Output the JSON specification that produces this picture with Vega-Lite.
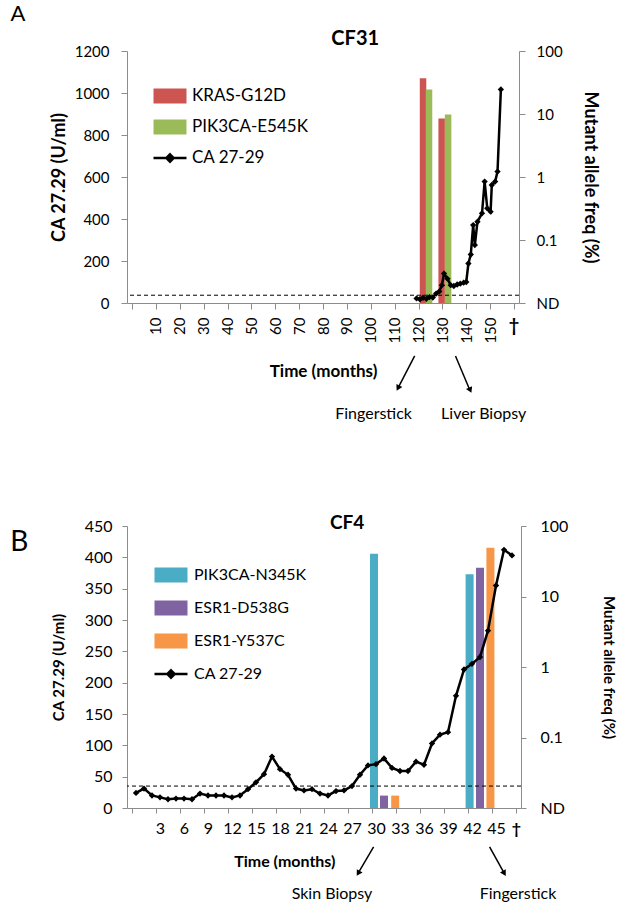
{
  "$schema": "https://vega.github.io/schema/vega-lite/v6.json",
  "background": "white",
  "padding": {"left": 10, "top": 3, "right": 10, "bottom": 0},
  "spacing": 223,
  "bounds": "flush",
  "resolve": {"scale": {"color": "independent"}, "legend": {"color": "independent"}},
  "config": {
    "view": {"stroke": null},
    "font": "Lato",
    "axis": {"grid": false, "domainColor": "#8c8c8c", "tickColor": "#8c8c8c", "labelColor": "black", "titleColor": "black", "labelFont": "Lato", "titleFont": "Lato", "labelOverlap": false, "labelSeparation": -40},
    "legend": {"labelFont": "Lato", "labelColor": "black"}
  },
  "vconcat": [
    {
      "width": 392,
      "height": 252,
      "resolve": {"scale": {"y": "independent"}},
      "layer": [
        {
          "data": {"values": [
            {"month": 121.9, "freq": 37, "series": "KRAS-G12D"},
            {"month": 124.4, "freq": 24.5, "series": "PIK3CA-E545K"},
            {"month": 129.7, "freq": 8.5, "series": "KRAS-G12D"},
            {"month": 132.4, "freq": 9.8, "series": "PIK3CA-E545K"}
          ]},
          "mark": {"type": "bar", "size": 6.5},
          "encoding": {
            "x": {"field": "month", "type": "quantitative", "scale": {"domain": [0, 160], "nice": false, "zero": false},
              "axis": {"values": [0, 10, 20, 30, 40, 50, 60, 70, 80, 90, 100, 110, 120, 130, 140, 150, 160], "labelExpr": "datum.value == 0 || datum.value == 160 ? '' : datum.label", "labelOverlap": false, "labelSeparation": -40, "labelAngle": -90, "labelFontSize": 15, "labelPadding": 8, "tickSize": 6, "title": "Time (months)", "titleFontSize": 17, "titleFontWeight": "bold", "titlePadding": 20}},
            "y": {"field": "freq", "type": "quantitative", "scale": {"type": "log", "domain": [0.01, 100], "nice": false},
              "axis": {"orient": "right", "values": [0.01, 0.1, 1, 10, 100], "labelExpr": "datum.value < 0.05 ? 'ND' : datum.value < 0.5 ? '0.1' : format(datum.value, 'd')", "labelOverlap": false, "labelFontSize": 15, "tickSize": 6, "labelPadding": 11, "title": "Mutant allele freq (%)", "titleFontSize": 18, "titleFontWeight": "bold", "titlePadding": 18}},
            "y2": {"datum": 0.01},
            "color": {"field": "series", "type": "nominal",
              "scale": {"domain": ["KRAS-G12D", "PIK3CA-E545K", "CA 27-29"], "range": ["#CD5551", "#9BBB59", "black"]},
              "legend": {"title": null, "orient": "none", "legendX": 25, "legendY": 27, "symbolSize": 1089, "labelFontSize": 17, "rowPadding": -1, "labelOffset": 4,
                "encode": {"symbols": {"update": {
                  "shape": {"signal": "datum.value === 'CA 27-29' ? 'M-1,0L1,0M0,-0.22L0.22,0L0,0.22L-0.22,0Z' : 'M-1,-0.45L1,-0.45L1,0.45L-1,0.45Z'"},
                  "fill": {"signal": "datum.value === 'CA 27-29' ? 'black' : scale('color', datum.value)"},
                  "stroke": {"signal": "datum.value === 'CA 27-29' ? 'black' : 'transparent'"},
                  "strokeWidth": {"value": 2.5},
                  "opacity": {"value": 1}
                }}}}
            }
          }
        },
        {
          "data": {"values": [{"cutoff": 37}]},
          "mark": {"type": "rule", "color": "black", "strokeWidth": 1, "strokeDash": [4, 3]},
          "encoding": {"y": {"field": "cutoff", "type": "quantitative", "scale": {"domain": [0, 1200], "nice": false}, "axis": null}}
        },
        {
          "data": {"values": [
            {"month": 119.2, "ca": 22}, {"month": 120.6, "ca": 18}, {"month": 121.9, "ca": 25}, {"month": 123.3, "ca": 20},
            {"month": 124.6, "ca": 28}, {"month": 126.0, "ca": 26}, {"month": 127.4, "ca": 45}, {"month": 128.7, "ca": 55},
            {"month": 129.8, "ca": 85}, {"month": 130.7, "ca": 140}, {"month": 132.1, "ca": 116}, {"month": 133.5, "ca": 85},
            {"month": 134.8, "ca": 81}, {"month": 136.2, "ca": 88}, {"month": 137.5, "ca": 92}, {"month": 138.9, "ca": 97},
            {"month": 140.0, "ca": 100}, {"month": 140.9, "ca": 188}, {"month": 141.9, "ca": 231}, {"month": 142.9, "ca": 371},
            {"month": 143.6, "ca": 276}, {"month": 144.7, "ca": 387}, {"month": 146.6, "ca": 427}, {"month": 147.7, "ca": 578},
            {"month": 148.8, "ca": 451}, {"month": 150.2, "ca": 435}, {"month": 150.7, "ca": 562}, {"month": 152.1, "ca": 578},
            {"month": 153.1, "ca": 626}, {"month": 154.5, "ca": 1017}
          ]},
          "mark": {"type": "line", "color": "black", "strokeWidth": 2.5, "point": {"shape": "diamond", "size": 40, "filled": true, "color": "black"}},
          "encoding": {
            "x": {"field": "month", "type": "quantitative", "scale": {"domain": [0, 160], "nice": false, "zero": false},
              "axis": {"values": [0, 10, 20, 30, 40, 50, 60, 70, 80, 90, 100, 110, 120, 130, 140, 150, 160], "labelExpr": "datum.value == 0 || datum.value == 160 ? '' : datum.label", "labelOverlap": false, "labelSeparation": -40, "labelAngle": -90, "labelFontSize": 15, "labelPadding": 8, "tickSize": 6, "title": "Time (months)", "titleFontSize": 17, "titleFontWeight": "bold", "titlePadding": 20}},
            "y": {"field": "ca", "type": "quantitative", "scale": {"domain": [0, 1200], "nice": false},
              "axis": {"orient": "left", "values": [0, 200, 400, 600, 800, 1000, 1200], "format": "d", "labelOverlap": false, "labelFontSize": 15, "tickSize": 6, "labelPadding": 12, "title": "CA 27.29 (U/ml)", "titleFontSize": 18, "titleFontWeight": "bold", "titlePadding": 6}}
          }
        },
        {
          "data": {"values": [
            {"note": "A", "size": "big"}
          ]},
          "mark": {"type": "text", "fontSize": 22, "align": "center", "baseline": "middle", "color": "black"},
          "encoding": {"x": {"datum": -47.8, "type": "quantitative", "axis": {"values": [0, 10, 20, 30, 40, 50, 60, 70, 80, 90, 100, 110, 120, 130, 140, 150, 160], "labelExpr": "datum.value == 0 || datum.value == 160 ? '' : datum.label", "labelOverlap": false, "labelSeparation": -40, "labelAngle": -90, "labelFontSize": 15, "labelPadding": 8, "tickSize": 6, "title": "Time (months)", "titleFontSize": 17, "titleFontWeight": "bold", "titlePadding": 20}}, "y": {"datum": 1376, "type": "quantitative", "scale": {"domain": [0, 1200], "nice": false}, "axis": null}, "text": {"field": "note", "type": "nominal"}}
        },
        {
          "data": {"values": [{"note": "CF31"}]},
          "mark": {"type": "text", "fontSize": 20, "fontWeight": "bold", "align": "center", "baseline": "middle", "color": "black"},
          "encoding": {"x": {"datum": 93.5, "type": "quantitative", "axis": {"values": [0, 10, 20, 30, 40, 50, 60, 70, 80, 90, 100, 110, 120, 130, 140, 150, 160], "labelExpr": "datum.value == 0 || datum.value == 160 ? '' : datum.label", "labelOverlap": false, "labelSeparation": -40, "labelAngle": -90, "labelFontSize": 15, "labelPadding": 8, "tickSize": 6, "title": "Time (months)", "titleFontSize": 17, "titleFontWeight": "bold", "titlePadding": 20}}, "y": {"datum": 1257, "type": "quantitative", "scale": {"domain": [0, 1200], "nice": false}, "axis": null}, "text": {"field": "note", "type": "nominal"}}
        },
        {
          "data": {"values": [{"note": "†"}]},
          "mark": {"type": "text", "fontSize": 18, "fontWeight": "bold", "align": "center", "baseline": "middle", "color": "black"},
          "encoding": {"x": {"datum": 160, "type": "quantitative", "axis": {"values": [0, 10, 20, 30, 40, 50, 60, 70, 80, 90, 100, 110, 120, 130, 140, 150, 160], "labelExpr": "datum.value == 0 || datum.value == 160 ? '' : datum.label", "labelOverlap": false, "labelSeparation": -40, "labelAngle": -90, "labelFontSize": 15, "labelPadding": 8, "tickSize": 6, "title": "Time (months)", "titleFontSize": 17, "titleFontWeight": "bold", "titlePadding": 20}}, "y": {"datum": -114, "type": "quantitative", "scale": {"domain": [0, 1200], "nice": false}, "axis": null}, "text": {"field": "note", "type": "nominal"}}
        },
        {
          "data": {"values": [{"note": "Fingerstick"}]},
          "mark": {"type": "text", "fontSize": 16, "align": "center", "baseline": "middle", "color": "black"},
          "encoding": {"x": {"datum": 101.2, "type": "quantitative", "axis": {"values": [0, 10, 20, 30, 40, 50, 60, 70, 80, 90, 100, 110, 120, 130, 140, 150, 160], "labelExpr": "datum.value == 0 || datum.value == 160 ? '' : datum.label", "labelOverlap": false, "labelSeparation": -40, "labelAngle": -90, "labelFontSize": 15, "labelPadding": 8, "tickSize": 6, "title": "Time (months)", "titleFontSize": 17, "titleFontWeight": "bold", "titlePadding": 20}}, "y": {"datum": -529, "type": "quantitative", "scale": {"domain": [0, 1200], "nice": false}, "axis": null}, "text": {"field": "note", "type": "nominal"}}
        },
        {
          "data": {"values": [{"note": "Liver Biopsy"}]},
          "mark": {"type": "text", "fontSize": 16, "align": "center", "baseline": "middle", "color": "black"},
          "encoding": {"x": {"datum": 147.3, "type": "quantitative", "axis": {"values": [0, 10, 20, 30, 40, 50, 60, 70, 80, 90, 100, 110, 120, 130, 140, 150, 160], "labelExpr": "datum.value == 0 || datum.value == 160 ? '' : datum.label", "labelOverlap": false, "labelSeparation": -40, "labelAngle": -90, "labelFontSize": 15, "labelPadding": 8, "tickSize": 6, "title": "Time (months)", "titleFontSize": 17, "titleFontWeight": "bold", "titlePadding": 20}}, "y": {"datum": -529, "type": "quantitative", "scale": {"domain": [0, 1200], "nice": false}, "axis": null}, "text": {"field": "note", "type": "nominal"}}
        },
        {
          "data": {"values": [{"event": "Fingerstick"}]},
          "mark": {"type": "rule", "color": "black", "strokeWidth": 1.5},
          "encoding": {"x": {"datum": 118.4, "type": "quantitative", "axis": {"values": [0, 10, 20, 30, 40, 50, 60, 70, 80, 90, 100, 110, 120, 130, 140, 150, 160], "labelExpr": "datum.value == 0 || datum.value == 160 ? '' : datum.label", "labelOverlap": false, "labelSeparation": -40, "labelAngle": -90, "labelFontSize": 15, "labelPadding": 8, "tickSize": 6, "title": "Time (months)", "titleFontSize": 17, "titleFontWeight": "bold", "titlePadding": 20}}, "x2": {"datum": 111.4}, "y": {"datum": -252, "type": "quantitative", "scale": {"domain": [0, 1200], "nice": false}, "axis": null}, "y2": {"datum": -405}}
        },
        {
          "data": {"values": [{"event": "Fingerstick"}]},
          "mark": {"type": "point", "shape": "triangle", "filled": true, "size": 45, "angle": 208, "color": "black", "opacity": 1},
          "encoding": {"x": {"datum": 111.6, "type": "quantitative", "axis": {"values": [0, 10, 20, 30, 40, 50, 60, 70, 80, 90, 100, 110, 120, 130, 140, 150, 160], "labelExpr": "datum.value == 0 || datum.value == 160 ? '' : datum.label", "labelOverlap": false, "labelSeparation": -40, "labelAngle": -90, "labelFontSize": 15, "labelPadding": 8, "tickSize": 6, "title": "Time (months)", "titleFontSize": 17, "titleFontWeight": "bold", "titlePadding": 20}}, "y": {"datum": -401, "type": "quantitative", "scale": {"domain": [0, 1200], "nice": false}, "axis": null}}
        },
        {
          "data": {"values": [{"event": "Liver Biopsy"}]},
          "mark": {"type": "rule", "color": "black", "strokeWidth": 1.5},
          "encoding": {"x": {"datum": 135.5, "type": "quantitative", "axis": {"values": [0, 10, 20, 30, 40, 50, 60, 70, 80, 90, 100, 110, 120, 130, 140, 150, 160], "labelExpr": "datum.value == 0 || datum.value == 160 ? '' : datum.label", "labelOverlap": false, "labelSeparation": -40, "labelAngle": -90, "labelFontSize": 15, "labelPadding": 8, "tickSize": 6, "title": "Time (months)", "titleFontSize": 17, "titleFontWeight": "bold", "titlePadding": 20}}, "x2": {"datum": 141.4}, "y": {"datum": -252, "type": "quantitative", "scale": {"domain": [0, 1200], "nice": false}, "axis": null}, "y2": {"datum": -412}}
        },
        {
          "data": {"values": [{"event": "Liver Biopsy"}]},
          "mark": {"type": "point", "shape": "triangle", "filled": true, "size": 45, "angle": 156, "color": "black", "opacity": 1},
          "encoding": {"x": {"datum": 141.5, "type": "quantitative", "axis": {"values": [0, 10, 20, 30, 40, 50, 60, 70, 80, 90, 100, 110, 120, 130, 140, 150, 160], "labelExpr": "datum.value == 0 || datum.value == 160 ? '' : datum.label", "labelOverlap": false, "labelSeparation": -40, "labelAngle": -90, "labelFontSize": 15, "labelPadding": 8, "tickSize": 6, "title": "Time (months)", "titleFontSize": 17, "titleFontWeight": "bold", "titlePadding": 20}}, "y": {"datum": -411, "type": "quantitative", "scale": {"domain": [0, 1200], "nice": false}, "axis": null}}
        }
      ]
    },
    {
      "width": 394,
      "height": 282,
      "resolve": {"scale": {"y": "independent"}},
      "layer": [
        {
          "data": {"values": [
            {"month": 30.25, "freq": 40.5, "series": "PIK3CA-N345K"},
            {"month": 31.5, "freq": 0.015, "series": "ESR1-D538G"},
            {"month": 32.9, "freq": 0.015, "series": "ESR1-Y537C"},
            {"month": 42.2, "freq": 20.6, "series": "PIK3CA-N345K"},
            {"month": 43.5, "freq": 25.6, "series": "ESR1-D538G"},
            {"month": 44.8, "freq": 49.2, "series": "ESR1-Y537C"}
          ]},
          "mark": {"type": "bar", "size": 8},
          "encoding": {
            "x": {"field": "month", "type": "quantitative", "scale": {"domain": [0, 48], "nice": false, "zero": false},
              "axis": {"values": [0, 3, 6, 9, 12, 15, 18, 21, 24, 27, 30, 33, 36, 39, 42, 45, 48], "labelExpr": "datum.value == 0 ? '' : datum.value == 48 ? '†' : datum.label", "labelOverlap": false, "labelSeparation": -40, "labelAngle": 0, "labelFontSize": 16, "labelPadding": 7, "tickSize": 5, "labelOffset": {"condition": {"test": "datum.value == 48", "value": 0}, "value": 4}, "labelFontWeight": {"condition": {"test": "datum.value == 48", "value": "bold"}, "value": "normal"}, "title": null}},
            "y": {"field": "freq", "type": "quantitative", "scale": {"type": "log", "domain": [0.01, 100], "nice": false},
              "axis": {"orient": "right", "values": [0.01, 0.1, 1, 10, 100], "labelExpr": "datum.value < 0.05 ? 'ND' : datum.value < 0.5 ? '0.1' : format(datum.value, 'd')", "labelOverlap": false, "labelFontSize": 16, "tickSize": 5, "labelPadding": 14, "title": "Mutant allele freq (%)", "titleFontSize": 15, "titleFontWeight": "bold", "titlePadding": 33}},
            "y2": {"datum": 0.01},
            "color": {"field": "series", "type": "nominal",
              "scale": {"domain": ["PIK3CA-N345K", "ESR1-D538G", "ESR1-Y537C", "CA 27-29"], "range": ["#4BACC6", "#8064A2", "#F79646", "black"]},
              "legend": {"title": null, "orient": "none", "legendX": 26, "legendY": 31, "symbolSize": 1089, "labelFontSize": 16, "rowPadding": 2, "labelOffset": 5,
                "encode": {"symbols": {"update": {
                  "shape": {"signal": "datum.value === 'CA 27-29' ? 'M-1,0L1,0M0,-0.22L0.22,0L0,0.22L-0.22,0Z' : 'M-1,-0.45L1,-0.45L1,0.45L-1,0.45Z'"},
                  "fill": {"signal": "datum.value === 'CA 27-29' ? 'black' : scale('color', datum.value)"},
                  "stroke": {"signal": "datum.value === 'CA 27-29' ? 'black' : 'transparent'"},
                  "strokeWidth": {"value": 2.5},
                  "opacity": {"value": 1}
                }}}}
            }
          }
        },
        {
          "data": {"values": [{"cutoff": 35}]},
          "mark": {"type": "rule", "color": "black", "strokeWidth": 1, "strokeDash": [4, 3]},
          "encoding": {"y": {"field": "cutoff", "type": "quantitative", "scale": {"domain": [0, 450], "nice": false}, "axis": null}}
        },
        {
          "data": {"values": [
            {"month": 0.5, "ca": 24}, {"month": 1.5, "ca": 31}, {"month": 2.5, "ca": 20}, {"month": 3.5, "ca": 17},
            {"month": 4.5, "ca": 14}, {"month": 5.5, "ca": 15}, {"month": 6.5, "ca": 15}, {"month": 7.5, "ca": 14},
            {"month": 8.5, "ca": 23}, {"month": 9.5, "ca": 20}, {"month": 10.5, "ca": 20}, {"month": 11.5, "ca": 20},
            {"month": 12.5, "ca": 17}, {"month": 13.5, "ca": 20}, {"month": 14.5, "ca": 30}, {"month": 15.5, "ca": 41},
            {"month": 16.5, "ca": 54}, {"month": 17.5, "ca": 82}, {"month": 18.5, "ca": 62}, {"month": 19.5, "ca": 53},
            {"month": 20.5, "ca": 31}, {"month": 21.5, "ca": 28}, {"month": 22.5, "ca": 30}, {"month": 23.5, "ca": 23},
            {"month": 24.5, "ca": 20}, {"month": 25.5, "ca": 27}, {"month": 26.5, "ca": 28}, {"month": 27.5, "ca": 35},
            {"month": 28.5, "ca": 53}, {"month": 29.5, "ca": 68}, {"month": 30.5, "ca": 70}, {"month": 31.5, "ca": 79},
            {"month": 32.5, "ca": 64}, {"month": 33.5, "ca": 59}, {"month": 34.5, "ca": 59}, {"month": 35.5, "ca": 74},
            {"month": 36.5, "ca": 69}, {"month": 37.5, "ca": 103}, {"month": 38.5, "ca": 117}, {"month": 39.5, "ca": 121},
            {"month": 40.5, "ca": 179}, {"month": 41.5, "ca": 221}, {"month": 42.5, "ca": 230}, {"month": 43.5, "ca": 241},
            {"month": 44.5, "ca": 283}, {"month": 45.5, "ca": 355}, {"month": 46.5, "ca": 412}, {"month": 47.5, "ca": 403}
          ]},
          "mark": {"type": "line", "color": "black", "strokeWidth": 2.5, "point": {"shape": "diamond", "size": 40, "filled": true, "color": "black"}},
          "encoding": {
            "x": {"field": "month", "type": "quantitative", "scale": {"domain": [0, 48], "nice": false, "zero": false},
              "axis": {"values": [0, 3, 6, 9, 12, 15, 18, 21, 24, 27, 30, 33, 36, 39, 42, 45, 48], "labelExpr": "datum.value == 0 ? '' : datum.value == 48 ? '†' : datum.label", "labelOverlap": false, "labelSeparation": -40, "labelAngle": 0, "labelFontSize": 16, "labelPadding": 7, "tickSize": 5, "labelOffset": {"condition": {"test": "datum.value == 48", "value": 0}, "value": 4}, "labelFontWeight": {"condition": {"test": "datum.value == 48", "value": "bold"}, "value": "normal"}, "title": null}},
            "y": {"field": "ca", "type": "quantitative", "scale": {"domain": [0, 450], "nice": false},
              "axis": {"orient": "left", "values": [0, 50, 100, 150, 200, 250, 300, 350, 400, 450], "format": "d", "labelOverlap": false, "labelFontSize": 16, "tickSize": 5, "labelPadding": 10, "title": "CA 27.29 (U/ml)", "titleFontSize": 15, "titleFontWeight": "bold", "titlePadding": 18}}
          }
        },
        {
          "data": {"values": [{"note": "B"}]},
          "mark": {"type": "text", "fontSize": 28, "align": "center", "baseline": "middle", "color": "black"},
          "encoding": {"x": {"datum": -14.1, "type": "quantitative", "axis": {"values": [0, 3, 6, 9, 12, 15, 18, 21, 24, 27, 30, 33, 36, 39, 42, 45, 48], "labelExpr": "datum.value == 0 ? '' : datum.value == 48 ? '†' : datum.label", "labelOverlap": false, "labelSeparation": -40, "labelAngle": 0, "labelFontSize": 16, "labelPadding": 7, "tickSize": 5, "labelOffset": {"condition": {"test": "datum.value == 48", "value": 0}, "value": 4}, "labelFontWeight": {"condition": {"test": "datum.value == 48", "value": "bold"}, "value": "normal"}, "title": null}}, "y": {"datum": 423, "type": "quantitative", "scale": {"domain": [0, 450], "nice": false}, "axis": null}, "text": {"field": "note", "type": "nominal"}}
        },
        {
          "data": {"values": [{"note": "CF4"}]},
          "mark": {"type": "text", "fontSize": 19, "fontWeight": "bold", "align": "center", "baseline": "middle", "color": "black"},
          "encoding": {"x": {"datum": 26.9, "type": "quantitative", "axis": {"values": [0, 3, 6, 9, 12, 15, 18, 21, 24, 27, 30, 33, 36, 39, 42, 45, 48], "labelExpr": "datum.value == 0 ? '' : datum.value == 48 ? '†' : datum.label", "labelOverlap": false, "labelSeparation": -40, "labelAngle": 0, "labelFontSize": 16, "labelPadding": 7, "tickSize": 5, "labelOffset": {"condition": {"test": "datum.value == 48", "value": 0}, "value": 4}, "labelFontWeight": {"condition": {"test": "datum.value == 48", "value": "bold"}, "value": "normal"}, "title": null}}, "y": {"datum": 455, "type": "quantitative", "scale": {"domain": [0, 450], "nice": false}, "axis": null}, "text": {"field": "note", "type": "nominal"}}
        },
        {
          "data": {"values": [{"note": "Time (months)"}]},
          "mark": {"type": "text", "fontSize": 16, "fontWeight": "bold", "align": "center", "baseline": "middle", "color": "black"},
          "encoding": {"x": {"datum": 19.1, "type": "quantitative", "axis": {"values": [0, 3, 6, 9, 12, 15, 18, 21, 24, 27, 30, 33, 36, 39, 42, 45, 48], "labelExpr": "datum.value == 0 ? '' : datum.value == 48 ? '†' : datum.label", "labelOverlap": false, "labelSeparation": -40, "labelAngle": 0, "labelFontSize": 16, "labelPadding": 7, "tickSize": 5, "labelOffset": {"condition": {"test": "datum.value == 48", "value": 0}, "value": 4}, "labelFontWeight": {"condition": {"test": "datum.value == 48", "value": "bold"}, "value": "normal"}, "title": null}}, "y": {"datum": -86, "type": "quantitative", "scale": {"domain": [0, 450], "nice": false}, "axis": null}, "text": {"field": "note", "type": "nominal"}}
        },
        {
          "data": {"values": [{"note": "Skin Biopsy"}]},
          "mark": {"type": "text", "fontSize": 16, "align": "center", "baseline": "middle", "color": "black"},
          "encoding": {"x": {"datum": 25.0, "type": "quantitative", "axis": {"values": [0, 3, 6, 9, 12, 15, 18, 21, 24, 27, 30, 33, 36, 39, 42, 45, 48], "labelExpr": "datum.value == 0 ? '' : datum.value == 48 ? '†' : datum.label", "labelOverlap": false, "labelSeparation": -40, "labelAngle": 0, "labelFontSize": 16, "labelPadding": 7, "tickSize": 5, "labelOffset": {"condition": {"test": "datum.value == 48", "value": 0}, "value": 4}, "labelFontWeight": {"condition": {"test": "datum.value == 48", "value": "bold"}, "value": "normal"}, "title": null}}, "y": {"datum": -137, "type": "quantitative", "scale": {"domain": [0, 450], "nice": false}, "axis": null}, "text": {"field": "note", "type": "nominal"}}
        },
        {
          "data": {"values": [{"note": "Fingerstick"}]},
          "mark": {"type": "text", "fontSize": 16, "align": "center", "baseline": "middle", "color": "black"},
          "encoding": {"x": {"datum": 48.25, "type": "quantitative", "axis": {"values": [0, 3, 6, 9, 12, 15, 18, 21, 24, 27, 30, 33, 36, 39, 42, 45, 48], "labelExpr": "datum.value == 0 ? '' : datum.value == 48 ? '†' : datum.label", "labelOverlap": false, "labelSeparation": -40, "labelAngle": 0, "labelFontSize": 16, "labelPadding": 7, "tickSize": 5, "labelOffset": {"condition": {"test": "datum.value == 48", "value": 0}, "value": 4}, "labelFontWeight": {"condition": {"test": "datum.value == 48", "value": "bold"}, "value": "normal"}, "title": null}}, "y": {"datum": -137, "type": "quantitative", "scale": {"domain": [0, 450], "nice": false}, "axis": null}, "text": {"field": "note", "type": "nominal"}}
        },
        {
          "data": {"values": [{"event": "Skin Biopsy"}]},
          "mark": {"type": "rule", "color": "black", "strokeWidth": 1.5},
          "encoding": {"x": {"datum": 30.2, "type": "quantitative", "axis": {"values": [0, 3, 6, 9, 12, 15, 18, 21, 24, 27, 30, 33, 36, 39, 42, 45, 48], "labelExpr": "datum.value == 0 ? '' : datum.value == 48 ? '†' : datum.label", "labelOverlap": false, "labelSeparation": -40, "labelAngle": 0, "labelFontSize": 16, "labelPadding": 7, "tickSize": 5, "labelOffset": {"condition": {"test": "datum.value == 48", "value": 0}, "value": 4}, "labelFontWeight": {"condition": {"test": "datum.value == 48", "value": "bold"}, "value": "normal"}, "title": null}}, "x2": {"datum": 28.4}, "y": {"datum": -62, "type": "quantitative", "scale": {"domain": [0, 450], "nice": false}, "axis": null}, "y2": {"datum": -101}}
        },
        {
          "data": {"values": [{"event": "Skin Biopsy"}]},
          "mark": {"type": "point", "shape": "triangle", "filled": true, "size": 45, "angle": 211, "color": "black", "opacity": 1},
          "encoding": {"x": {"datum": 28.34, "type": "quantitative", "axis": {"values": [0, 3, 6, 9, 12, 15, 18, 21, 24, 27, 30, 33, 36, 39, 42, 45, 48], "labelExpr": "datum.value == 0 ? '' : datum.value == 48 ? '†' : datum.label", "labelOverlap": false, "labelSeparation": -40, "labelAngle": 0, "labelFontSize": 16, "labelPadding": 7, "tickSize": 5, "labelOffset": {"condition": {"test": "datum.value == 48", "value": 0}, "value": 4}, "labelFontWeight": {"condition": {"test": "datum.value == 48", "value": "bold"}, "value": "normal"}, "title": null}}, "y": {"datum": -103, "type": "quantitative", "scale": {"domain": [0, 450], "nice": false}, "axis": null}}
        },
        {
          "data": {"values": [{"event": "Fingerstick"}]},
          "mark": {"type": "rule", "color": "black", "strokeWidth": 1.5},
          "encoding": {"x": {"datum": 44.7, "type": "quantitative", "axis": {"values": [0, 3, 6, 9, 12, 15, 18, 21, 24, 27, 30, 33, 36, 39, 42, 45, 48], "labelExpr": "datum.value == 0 ? '' : datum.value == 48 ? '†' : datum.label", "labelOverlap": false, "labelSeparation": -40, "labelAngle": 0, "labelFontSize": 16, "labelPadding": 7, "tickSize": 5, "labelOffset": {"condition": {"test": "datum.value == 48", "value": 0}, "value": 4}, "labelFontWeight": {"condition": {"test": "datum.value == 48", "value": "bold"}, "value": "normal"}, "title": null}}, "x2": {"datum": 46.4}, "y": {"datum": -62, "type": "quantitative", "scale": {"domain": [0, 450], "nice": false}, "axis": null}, "y2": {"datum": -101}}
        },
        {
          "data": {"values": [{"event": "Fingerstick"}]},
          "mark": {"type": "point", "shape": "triangle", "filled": true, "size": 45, "angle": 150, "color": "black", "opacity": 1},
          "encoding": {"x": {"datum": 46.48, "type": "quantitative", "axis": {"values": [0, 3, 6, 9, 12, 15, 18, 21, 24, 27, 30, 33, 36, 39, 42, 45, 48], "labelExpr": "datum.value == 0 ? '' : datum.value == 48 ? '†' : datum.label", "labelOverlap": false, "labelSeparation": -40, "labelAngle": 0, "labelFontSize": 16, "labelPadding": 7, "tickSize": 5, "labelOffset": {"condition": {"test": "datum.value == 48", "value": 0}, "value": 4}, "labelFontWeight": {"condition": {"test": "datum.value == 48", "value": "bold"}, "value": "normal"}, "title": null}}, "y": {"datum": -103, "type": "quantitative", "scale": {"domain": [0, 450], "nice": false}, "axis": null}}
        }
      ]
    }
  ]
}
